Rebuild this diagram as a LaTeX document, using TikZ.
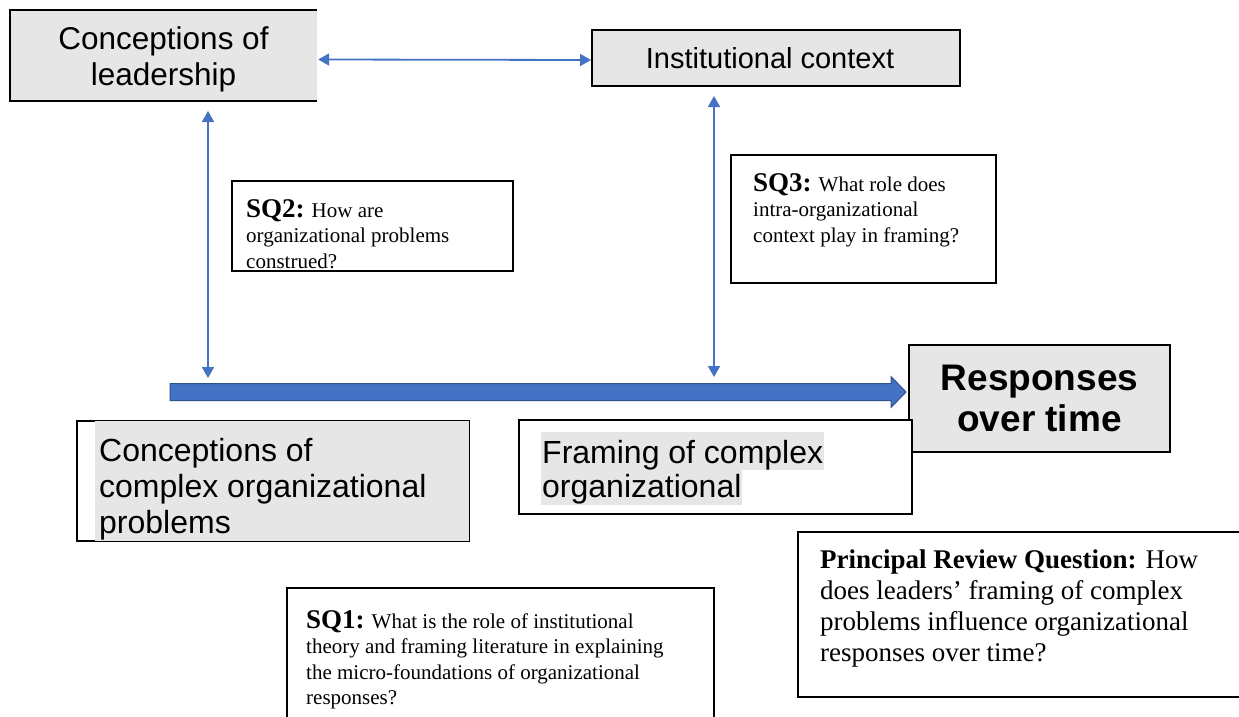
\documentclass[tikz,border=0pt]{standalone}
\usepackage{fontspec}
\setmainfont{Liberation Serif}
\newfontfamily\arial{Liberation Sans}
\usetikzlibrary{arrows.meta,calc}
\definecolor{boxgray}{HTML}{E6E6E6}
\definecolor{linkblue}{HTML}{4472C4}
\definecolor{bardark}{HTML}{2F528F}

\begin{document}
\begin{tikzpicture}[x=1pt,y=-1pt,
  greybox/.style={fill=boxgray,draw=black,line width=2pt,inner sep=0pt},
  plainbox/.style={fill=white,draw=black,line width=2pt,inner sep=0pt},
  sidelines/.style={draw=black,line width=2pt},
  link/.style={draw=linkblue,line width=1.8pt,{Triangle[width=12pt,length=11pt]}-{Triangle[width=12pt,length=11pt]}},
  sanslabel/.style={font=\arial\fontsize{32}{36}\selectfont,align=left,inner sep=0pt,anchor=north west},
  question/.style={font=\fontsize{21}{25.5}\selectfont,align=left,inner sep=0pt,anchor=north west},
  hilite/.style={fill=boxgray,inner ysep=0pt,inner xsep=1pt,anchor=base west,font=\arial\fontsize{32}{36}\selectfont}
]
\useasboundingbox (0,0) rectangle (1239,717);

% --- top row --------------------------------------------------------
\node[fill=boxgray,inner sep=0pt,minimum width=307pt,minimum height=91pt] (lead) at (163.5,55.5) {};
\draw[sidelines] (lead.north east) -- (lead.north west) -- (lead.south west) -- (lead.south east);
\node[font=\arial\fontsize{31.5}{36}\selectfont,align=center,inner sep=0pt] (leadtxt)
  at ($(lead.center)+(0,4)$) {Conceptions of\\leadership};

\node[greybox,minimum width=368pt,minimum height=56pt,
      font=\arial\fontsize{29}{34}\selectfont] (inst) at (776,58)
      {\hspace*{-12pt}Institutional context};

\draw[link] ($(lead.east)+(1,4)$) -- ($(inst.west)+(0,2)$);

% --- sub-question boxes ------------------------------------------------
\node[plainbox,minimum width=281pt,minimum height=90pt] (sq2box) at (372.5,226) {};
\node[question] (sq2) at (246,199)
  {\textbf{\fontsize{27}{25.5}\selectfont SQ2:} How are\\organizational problems\\construed?};

\node[plainbox,minimum width=265pt,minimum height=128pt] (sq3box) at (863.5,219) {};
\node[question] (sq3) at (753,173)
  {\textbf{\fontsize{27}{25.5}\selectfont SQ3:} What role does\\intra-organizational\\context play in framing?};

% --- time line ---------------------------------------------------------
\coordinate (barL) at (170,392);
\coordinate (barR) at (906,392);
\fill[linkblue,draw=bardark,line width=1pt]
  ($(barL)+(0,-8.5)$) -- ($(barR)+(-15,-8.5)$) -- ($(barR)+(-15,-15.5)$) -- (barR)
  -- ($(barR)+(-15,15.5)$) -- ($(barR)+(-15,8.5)$) -- ($(barL)+(0,8.5)$) -- cycle;

\node[greybox,minimum width=261pt,minimum height=107pt,
      font=\arial\bfseries\fontsize{37}{41}\selectfont,align=center] (resp) at (1039.5,398.5)
      {Responses\\over time};

% vertical links between the top row and the time line
\coordinate (q2top) at (208,111);
\coordinate (q2bot) at (208,378);
\coordinate (q3top) at (714,96);
\coordinate (q3bot) at (714,377);
\draw[link] (q2top) -- (q2bot);
\draw[link] (q3top) -- (q3bot);

% --- lower row ---------------------------------------------------------
\node[plainbox,minimum width=392pt,minimum height=120pt] (cprob) at (273,481) {};
\fill[boxgray] ($(cprob.north west)+(19,1)$) rectangle ($(cprob.south east)+(-1,-1)$);
\node[sanslabel] (cprobtxt) at (99,437.7)
  {Conceptions of\\complex organizational\\problems};

\node[plainbox,minimum width=393pt,minimum height=94pt] (frame) at (715.5,467) {};
\node[hilite,text height=31pt,text depth=7pt] (frame1) at (541,463) {Framing of complex};
\node[hilite,text height=27pt,text depth=8pt] (frame2) at (541,497) {organizational};

% --- bottom questions --------------------------------------------------
\node[fill=white,inner sep=0pt,minimum width=427pt,minimum height=131pt] (sq1box) at (500.5,653.5) {};
\draw[sidelines] (sq1box.south west) -- (sq1box.north west) -- (sq1box.north east) -- (sq1box.south east);
\node[question] (sq1) at (306,610)
  {\textbf{\fontsize{27}{25.5}\selectfont SQ1:} What is the role of institutional\\theory and framing literature in explaining\\the micro-foundations of organizational\\responses?};

\node[fill=white,inner sep=0pt,minimum width=443pt,minimum height=165pt] (prqbox) at (1019.5,614.5) {};
\draw[sidelines] (prqbox.north east) -- (prqbox.north west) -- (prqbox.south west) -- (prqbox.south east);
\node[question,font=\fontsize{27}{31}\selectfont] (prq) at (820,549.5)
  {\textbf{Principal Review Question:} How\\does leaders’ framing of complex\\problems influence organizational\\responses over time?};

\end{tikzpicture}
\end{document}
